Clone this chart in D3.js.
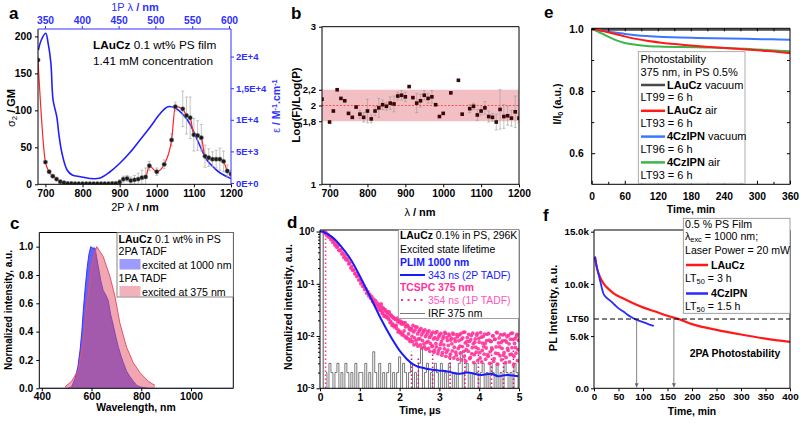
<!DOCTYPE html>
<html>
<head>
<meta charset="utf-8">
<script src="https://cdn.jsdelivr.net/npm/d3@7"></script>
<style>
  body { margin: 0; background: #fff; }
  svg { font-family: "Liberation Sans", Arial, sans-serif; }
</style>
</head>
<body>
<svg id="fig" width="800" height="423"></svg>
<script>
// ---- panel a : 2PA cross section (2P) and 1P absorption ----
var aLam2P = [680,700,710,720,730,740,750,760,770,780,790,800,810,820,830,840,850,860,870,880,890,900,910,920,930,940,950,960,970,980,1000,1020,1040,1050,1070,1080,1090,1100,1110,1120,1130,1140,1150,1160,1170,1180,1190,1200];
var aSigma = [168,30,17,11,7,3.5,2,1,1,0.8,0.8,0.8,0.8,0.8,0.8,0.8,0.8,0.8,0.8,1,1.2,3,7,8,5,6,7,9,10,25,17,27,60,105,102,93,90,67,66,63,38,36,34,34,34,31,18,14];
var aSigmaErr = [0,0,0,0,0,0,0,0,0,0,0,0,0,0,0,0,0,0,0,0,0,3,4,4,5,6,8,10,12,6,5,6,8,6,24,25,28,22,20,18,15,12,10,12,15,14,8,5];
var aLam1P = [341,345,351,354,358,361,366,369,373,380,387,398,411,425,438,452,466,479,493,506,517,527,538,547,557,570,580,588,603];
var aEps = [21040,22620,23680,22300,18990,13130,10490,7590,4750,2060,1270,1000,710,790,1740,3160,4900,6800,8860,10920,12070,11870,10760,9330,6800,3640,2370,1580,710];
var aEpsTicks = [0,5000,10000,15000,20000];
var aEpsLabels = ["0E+0","5E+3","1E+4","1,5E+4","2E+4"];

// ---- panel b : log(F)/log(P) slope ----
var bLam = [680,700,710,720,730,740,750,760,770,780,790,800,810,820,830,840,850,860,870,880,890,900,910,920,930,940,950,960,970,980,990,1000,1020,1040,1050,1070,1080,1090,1100,1110,1120,1130,1140,1150,1160,1170,1180,1190,1200];
var bRatio = [2.08,1.79,1.93,2.20,2.09,2.06,1.90,1.85,1.98,1.89,1.85,1.93,1.83,1.93,1.97,2.01,1.99,2.03,2.02,2.12,2.13,2.11,2.24,2.10,2.03,2.06,2.13,2.09,2.11,2.01,1.86,1.90,2.16,2.32,1.89,1.96,1.99,1.88,1.93,1.97,1.86,1.85,1.79,1.95,1.86,1.87,1.84,1.92,1.84];
var bErr = [0,0,0,0,0,0,0,0,0,0.05,0.06,0.15,0.05,0.06,0.12,0.06,0.05,0.08,0.1,0.05,0.06,0.06,0,0,0.12,0.08,0.06,0.06,0.08,0,0,0,0,0,0,0.05,0.04,0.07,0.05,0.08,0.07,0.05,0.1,0.25,0.15,0.12,0.1,0.2,0.06];
var bTicks = [1,1.8,2,2.2,3];
var bBand = [1.8,2.2];

// ---- panel c : emission spectra ----
var cRedNm = [493,520,547,567,583,601,621,647,674,694,714,741,768,795,828,855];
var cRedI = [0.01,0.05,0.13,0.34,0.62,0.88,1.0,0.93,0.79,0.65,0.46,0.29,0.18,0.11,0.05,0.02];
var cBlueNm = [390,505,520,534,545,554,561,567,575,583,590,597,605,614,620,627,637,647,657,667,677,688,698,708,718,728,741,755,768,782,795,808,830,1170];
var cBlueI = [0,0,0.01,0.07,0.15,0.27,0.40,0.55,0.72,0.86,0.95,1.0,0.99,0.99,0.93,0.86,0.76,0.69,0.66,0.62,0.52,0.44,0.36,0.29,0.23,0.18,0.12,0.08,0.05,0.02,0.01,0.005,0,0];

// ---- panel d : decays ----
var dPlimT = [0,0.1,0.29,0.54,0.8,1.05,1.3,1.55,1.8,2.05,2.3,2.64,2.97,3.2,3.48,3.7,4.06,4.3,4.48,4.7,4.98];
var dPlimI = [1.0,0.97,0.80,0.51,0.27,0.118,0.049,0.020,0.0091,0.0047,0.0030,0.0024,0.0022,0.0021,0.0019,0.0020,0.0018,0.0019,0.0017,0.0018,0.0017];
var dTcspcT0 = 0.1, dTcspcStep = 0.025;   // channel times, set 1
var dTcspcI = [
0.99,0.93,0.95,0.84,0.87,0.78,0.80,0.70,
0.72,0.62,0.66,0.55,0.58,0.50,0.53,0.44,
0.43,0.45,0.37,0.39,0.32,0.35,0.29,0.31,
0.28,0.24,0.25,0.20,0.215,0.18,0.185,0.155,
0.16,0.138,0.142,0.118,0.121,0.101,0.107,0.089,
0.092,0.078,0.081,0.066,0.071,0.059,0.063,0.053,
0.057,0.046,0.051,0.042,0.047,0.038,0.042,0.034,
0.039,0.031,0.036,0.028,0.033,0.025,0.030,0.024,
0.028,0.021,0.026,0.019,0.024,0.017,0.022,0.016,
0.021,0.014,0.019,0.013,0.018,0.012,0.017,0.011,
0.017,0.010,0.015,0.0095,0.016,0.011,0.0135,0.0085,
0.014,0.0078,0.012,0.0092,0.015,0.0071,0.011,0.0088,
0.013,0.0068,0.0105,0.0082,0.0125,0.0062,0.0098,0.0075,
0.012,0.0058,0.0094,0.0072,0.011,0.0065,0.0088,0.0054,
0.0115,0.0062,0.0087,0.0052,0.0105,0.0069,0.0078,0.0048,
0.0098,0.0057,0.0112,0.0049,0.0082,0.0066,0.0102,0.0045,
0.0091,0.0052,0.0108,0.0061,0.0079,0.0043,0.0096,0.0058,
0.0105,0.0047,0.0086,0.0063,0.0118,0.0041,0.0074,0.0055,
0.0093,0.0051,0.0079,0.0039,0.0102,0.0060,0.0071,0.0044,
0.0088,0.0049,0.0112,0.0057,0.0076,0.0038,0.0095,0.0053,
0.0098,0.0045,0.0072,0.0059,0.0108,0.0041,0.0083,0.0050,
0.0079,0.0056,0.0101,0.0037,0.0087,0.0062,0.0115,0.0046,
0.0092,0.0042,0.0075,0.0058,0.0105,0.0048,0.0082,0.0039,
0.0097,0.0053,0.0071,0.0044,0.0112,0.0060,0.0086,0.0041,
0.0089,0.0047,0.0108,0.0055];
var dTcspcT0b = 1.5125;                   // channel times, set 2 (same step)
var dTcspcIb = [
0.031,0.041,0.027,0.034,0.024,0.032,0.023,0.029,
0.022,0.029,0.018,0.025,0.016,0.023,0.015,0.021,
0.016,0.022,0.012,0.020,0.0115,0.019,0.0105,0.018,
0.0125,0.018,0.0092,0.016,0.0088,0.0145,0.0079,0.013,
0.0098,0.016,0.0068,0.013,0.0082,0.0148,0.0064,0.0122,
0.0088,0.0138,0.0059,0.0115,0.0071,0.0131,0.0056,0.0108,
0.0079,0.0125,0.0051,0.0101,0.0063,0.0119,0.0049,0.0093,
0.0072,0.0121,0.0046,0.0097,0.0058,0.0112,0.0043,0.0089,
0.0068,0.0117,0.0041,0.0093,0.0054,0.0109,0.0039,0.0084,
0.0071,0.0114,0.0038,0.0088,0.0049,0.0106,0.0036,0.0081,
0.0064,0.0111,0.0035,0.0092,0.0051,0.0119,0.0033,0.0078,
0.0066,0.0108,0.0037,0.0085,0.0046,0.0113,0.0031,0.0076,
0.0061,0.0104,0.0034,0.0089,0.0048,0.0116,0.0032,0.0073,
0.0063,0.0109,0.0036,0.0082,0.0044,0.0112,0.0030,0.0079,
0.0059,0.0101,0.0033,0.0086,0.0047,0.0118,0.0029,0.0074,
0.0062,0.0106,0.0035,0.0081,0.0043,0.0109,0.0031,0.0077,
0.0058,0.0103,0.0032,0.0087,0.0045,0.0114,0.0028,0.0072,
0.0060,0.0099,0.0034,0.0083];
var dDropT = [2.3,2.47,2.83,3.27,3.64,3.98,4.31,4.61,4.86];
var dDropI = [0.005,0.004,0.006,0.0045,0.006,0.005,0.0055,0.004,0.006];
var dRiseT = 0.14;
var dIrfPeakT = 0.08;
var dIrfT0 = 0.15, dIrfStep = 0.05;   // channel times
var dIrfCounts = [2,1,3,2,1,2,3,1,2,1, 3,2,1,2,1,3,1,2,2,1, 3,1,2,1,5,2,1,3,1,2, 1,2,3,1,2,1,2,4,1,3,
  2,1,2,3,1,2,1,3,6,1, 2,3,1,2,1,3,2,1,3,1, 2,1,3,2,1,2,1,3,5,1, 2,3,1,2,1,3,2,1,2,3,
  1,2,1,3,2,1,3,1,2,1, 3,2,1,2,1,3,2,1];  // x 1e-3

// ---- panel e : 1PA photostability ----
var eTime = [0,10,20,30,45,60,80,100,130,160,190,220,250,280,310,340,360];
var eLAuCzVac = [1.0,0.998,0.997,0.997,0.997,0.997,0.997,0.997,0.997,0.997,0.997,0.997,0.997,0.997,0.997,0.997,0.997];
var eLAuCzAir = [1.0,0.997,0.993,0.989,0.983,0.976,0.968,0.962,0.955,0.950,0.945,0.941,0.938,0.934,0.930,0.926,0.922];
var e4CzVac = [1.0,0.997,0.994,0.991,0.988,0.984,0.980,0.977,0.974,0.972,0.971,0.970,0.969,0.968,0.967,0.966,0.965];
var e4CzAir = [1.0,0.992,0.984,0.975,0.963,0.955,0.949,0.945,0.943,0.942,0.941,0.940,0.938,0.936,0.933,0.930,0.928];

// ---- panel f : 2PA photostability ----
var fTimeRed = [2,5,10,15,20,30,40,60,80,100,125,150,175,200,250,300,350,400];
var fRed = [12600,11700,10900,10400,10000,9500,9100,8600,8150,7750,7350,6950,6600,6150,5600,5150,4750,4450];
var fTimeBlue = [2,5,9,14,19,25,33,42,50,60,67,75,87,97,107,115,122];
var fBlue = [12600,11800,11000,10000,9100,8700,8400,8000,7650,7350,7100,6850,6550,6380,6220,6080,5970];
var fLT50 = 6640;
var fLT50Times = [87,163];

var TICK = 10.3;
var svg = d3.select("#fig");
var defs = svg.append("defs");

function makeClip(id, x0, y0, x1, y1) {
  defs.append("clipPath").attr("id", id).append("rect")
    .attr("x", x0).attr("y", y0).attr("width", x1 - x0).attr("height", y1 - y0);
  return "url(#" + id + ")";
}

function rich(t, parts) {
  parts.forEach(function(p) {
    if (typeof p === "string") p = {t: p};
    var ts = t.append("tspan").text(p.t);
    if (p.b) ts.attr("font-weight", "bold");
    if (p.c) ts.attr("fill", p.c);
    if (p.sup) ts.attr("baseline-shift", "3.5").style("font-size", "70%");
    if (p.sub) ts.attr("baseline-shift", "-2.3").style("font-size", "70%");
  });
  return t;
}

function txt(x, y, parts, o) {
  o = o || {};
  var t = svg.append("text").attr("x", x).attr("y", y)
    .attr("font-size", o.size || 10)
    .attr("fill", o.fill || "#000")
    .attr("text-anchor", o.anchor || "start");
  if (o.bold) t.attr("font-weight", "bold");
  return rich(t, parts);
}

function vtxt(x, y, parts, o) {
  o = o || {};
  var t = svg.append("text")
    .attr("transform", "translate(" + x + "," + y + ") rotate(-90)")
    .attr("font-size", o.size || 10)
    .attr("fill", o.fill || "#000")
    .attr("text-anchor", "middle");
  if (o.bold) t.attr("font-weight", "bold");
  return rich(t, parts);
}

function axis(gen, tx, ty, color, size) {
  var g = svg.append("g").attr("transform", "translate(" + tx + "," + ty + ")").call(gen);
  g.attr("font-family", null).attr("font-size", null);
  g.select(".domain").remove();
  g.selectAll(".tick line").attr("stroke", color || "#000");
  g.selectAll(".tick text").attr("fill", color || "#000")
    .attr("font-size", size || TICK).attr("font-weight", "bold");
  return g;
}

function frame(x0, y0, x1, y1, cTop, cRight) {
  var g = svg.append("g").attr("fill", "none").attr("stroke-width", 1);
  g.append("line").attr("x1", x0).attr("x2", x1).attr("y1", y1).attr("y2", y1).attr("stroke", "#000");
  g.append("line").attr("x1", x0).attr("x2", x0).attr("y1", y0).attr("y2", y1).attr("stroke", "#000");
  g.append("line").attr("x1", x0).attr("x2", x1).attr("y1", y0).attr("y2", y0).attr("stroke", cTop || "#000");
  g.append("line").attr("x1", x1).attr("x2", x1).attr("y1", y0).attr("y2", y1).attr("stroke", cRight || "#000");
}

function zip(xs, ys) { return xs.map(function(x, i) { return [x, ys[i]]; }); }
var fmtInt = d3.format("d");

// panel letters
[["a", 9, 19], ["b", 291, 19], ["e", 544, 18], ["c", 10, 229], ["d", 287, 228], ["f", 543, 221]].forEach(function(l) {
  txt(l[1], l[2], [l[0]], {size: 17, bold: true});
});

// ================= panel a =================
var ax = d3.scaleLinear().domain([680, 1200]).range([38, 231]);
var ay = d3.scaleLinear().domain([0, 210]).range([184.3, 29]);
var ax1 = d3.scaleLinear().domain([340.5, 602.7]).range([38, 231]);
var ayE = d3.scaleLinear().domain([-206, 24363]).range([184.3, 29]);
var clipA = makeClip("clipA", 38, 29, 231, 184.3);

var gA = svg.append("g").attr("clip-path", clipA);
gA.append("path").datum(zip(aLam1P, aEps))
  .attr("fill", "none").attr("stroke", "#2020ff").attr("stroke-width", 1.6)
  .attr("d", d3.line().curve(d3.curveCatmullRom).x(function(d) { return ax1(d[0]); }).y(function(d) { return ayE(d[1]); }));
aLam2P.forEach(function(l, i) {
  var e = aSigmaErr[i];
  if (!e) return;
  var x = ax(l);
  gA.append("line").attr("x1", x).attr("x2", x).attr("y1", ay(aSigma[i] - e)).attr("y2", ay(aSigma[i] + e))
    .attr("stroke", "#aaa").attr("stroke-width", 0.7);
  [aSigma[i] - e, aSigma[i] + e].forEach(function(v) {
    gA.append("line").attr("x1", x - 1.5).attr("x2", x + 1.5).attr("y1", ay(v)).attr("y2", ay(v))
      .attr("stroke", "#aaa").attr("stroke-width", 0.7);
  });
});
gA.append("path").datum(zip(aLam2P, aSigma))
  .attr("fill", "none").attr("stroke", "#ff2222").attr("stroke-width", 1.2)
  .attr("d", d3.line().curve(d3.curveMonotoneX).x(function(d) { return ax(d[0]); }).y(function(d) { return ay(d[1]); }));
gA.selectAll("circle").data(zip(aLam2P, aSigma)).enter().append("circle")
  .attr("cx", function(d) { return ax(d[0]); }).attr("cy", function(d) { return ay(d[1]); })
  .attr("r", 2.2).attr("fill", "#1a1a1a").attr("stroke", "#888").attr("stroke-width", 0.5);

frame(38, 29, 231, 184.3, "#3030ff", "#3030ff");
axis(d3.axisBottom(ax).tickValues([700,800,900,1000,1100,1200]).tickFormat(fmtInt).tickSize(3).tickPadding(2), 0, 184.3);
axis(d3.axisLeft(ay).tickValues([0,50,100,150,200]).tickSize(3).tickPadding(3), 38, 0);
axis(d3.axisTop(ax1).tickValues([350,400,450,500,550,600]).tickSize(3).tickPadding(2), 0, 29, "#3030ff");
axis(d3.axisRight(ayE).tickValues(aEpsTicks).tickSize(3).tickPadding(2)
  .tickFormat(function(d, i) { return aEpsLabels[i]; }), 231, 0, "#3030ff", 9.5);

txt(135, 11, ["1P λ ", {t: "/ nm", b: true}], {size: 11, fill: "#3030ff", anchor: "middle"});
txt(135, 211, ["2P λ ", {t: "/ nm", b: true}], {size: 11, anchor: "middle"});
vtxt(15, 108, ["σ", {t: "2", sub: true}, {t: " / GM", b: true}], {size: 11});
vtxt(280, 106, ["ε", {t: " / M", b: true}, {t: "-1", sup: true, b: true}, {t: ".cm", b: true}, {t: "-1", sup: true, b: true}], {size: 10.5, fill: "#3030ff"});
txt(93, 49, [{t: "LAuCz", b: true}, " 0.1 wt% PS film"], {size: 11.8});
txt(93, 65, ["1.41 mM concentration"], {size: 11.8});

// ================= panel b =================
var bx = d3.scaleLinear().domain([680, 1200]).range([322, 519]);
var by = d3.scaleLinear().domain([1, 3]).range([184.3, 26.7]);
var clipB = makeClip("clipB", 322, 26.7, 519, 184.3);
var gB = svg.append("g").attr("clip-path", clipB);
gB.append("rect").attr("x", 322).attr("width", 197)
  .attr("y", by(bBand[1])).attr("height", by(bBand[0]) - by(bBand[1]))
  .attr("fill", "rgba(222,90,100,0.38)");
gB.append("line").attr("x1", 322).attr("x2", 519).attr("y1", by(2)).attr("y2", by(2))
  .attr("stroke", "#ff4b4b").attr("stroke-width", 1.2).attr("stroke-dasharray", "2,1.6");
bLam.forEach(function(l, i) {
  var e = bErr[i];
  if (!e) return;
  var x = bx(l);
  gB.append("line").attr("x1", x).attr("x2", x).attr("y1", by(bRatio[i] - e)).attr("y2", by(bRatio[i] + e))
    .attr("stroke", "#999").attr("stroke-width", 0.6);
  [bRatio[i] - e, bRatio[i] + e].forEach(function(v) {
    gB.append("line").attr("x1", x - 1.5).attr("x2", x + 1.5).attr("y1", by(v)).attr("y2", by(v))
      .attr("stroke", "#999").attr("stroke-width", 0.6);
  });
});
gB.selectAll("rect.pt").data(zip(bLam, bRatio)).enter().append("rect").attr("class", "pt")
  .attr("x", function(d) { return bx(d[0]) - 1.8; }).attr("y", function(d) { return by(d[1]) - 1.8; })
  .attr("width", 3.6).attr("height", 3.6).attr("fill", "#3a0606");
frame(322, 26.7, 519, 184.3);
axis(d3.axisBottom(bx).tickValues([700,800,900,1000,1100,1200]).tickFormat(fmtInt).tickSize(3).tickPadding(2), 0, 184.3);
axis(d3.axisLeft(by).tickValues(bTicks).tickSize(3).tickPadding(3)
  .tickFormat(function(d) { return String(d).replace(".", ","); }), 322, 0, "#000", 9.5);
vtxt(300, 105, ["Log(F)/Log(P)"], {size: 11.5, bold: true});
txt(420, 216, ["λ ", {t: "/ nm", b: true}], {size: 11, anchor: "middle"});

// ================= panel c =================
var cx = d3.scaleLinear().domain([390, 1170]).range([39.3, 233.3]);
var cy = d3.scaleLinear().domain([0, 1.1]).range([388.3, 232.5]);
var clipC = makeClip("clipC", 39.3, 232.5, 233.3, 388.3);
var gC = svg.append("g").attr("clip-path", clipC);
var cArea = d3.area().x(function(d) { return cx(d[0]); }).y0(cy(0)).y1(function(d) { return cy(d[1]); });
var cLine = d3.line().x(function(d) { return cx(d[0]); }).y(function(d) { return cy(d[1]); });
gC.append("path").datum(zip(cBlueNm, cBlueI)).attr("d", cArea).attr("fill", "rgba(40,40,240,0.72)");
gC.append("path").datum(zip(cBlueNm, cBlueI)).attr("d", cLine).attr("fill", "none")
  .attr("stroke", "#3333ff").attr("stroke-width", 1);
gC.append("path").datum(zip(cRedNm, cRedI)).attr("d", cArea).attr("fill", "rgba(228,80,100,0.5)");
gC.append("path").datum(zip(cRedNm, cRedI)).attr("d", cLine).attr("fill", "none")
  .attr("stroke", "#e8506a").attr("stroke-width", 1);
frame(39.3, 232.5, 233.3, 388.3);
axis(d3.axisBottom(cx).tickValues([400,600,800,1000]).tickFormat(fmtInt).tickSize(3).tickPadding(1), 0, 388.3);
axis(d3.axisLeft(cy).tickValues([0,0.2,0.4,0.6,0.8,1.0]).tickFormat(d3.format(".1f")).tickSize(3).tickPadding(3), 39.3, 0);
svg.append("rect").attr("x", 117).attr("y", 232.5).attr("width", 116.3).attr("height", 64.5)
  .attr("fill", "#fff").attr("stroke", "#666").attr("stroke-width", 0.8);
txt(118.5, 242.5, [{t: "LAuCz", b: true}, " 0.1 wt% in PS"], {size: 10.6});
txt(118.5, 255, ["2PA TADF"], {size: 10.6});
svg.append("rect").attr("x", 119.5).attr("y", 259).attr("width", 21).attr("height", 10.5).attr("fill", "rgba(90,90,250,0.6)");
txt(142, 268.5, ["excited at 1000 nm"], {size: 10.6});
txt(118.5, 282, ["1PA TADF"], {size: 10.6});
svg.append("rect").attr("x", 119.5).attr("y", 286).attr("width", 21).attr("height", 10.5).attr("fill", "rgba(232,100,120,0.5)");
txt(142, 295.5, ["excited at 375 nm"], {size: 10.6});
vtxt(12, 310, ["Normalized intensity, a.u."], {size: 10, bold: true});
txt(136, 411, ["Wavelength, nm"], {size: 10.4, bold: true, anchor: "middle"});

// ================= panel d =================
var dx = d3.scaleLinear().domain([0, 5]).range([320, 519]);
var dy = d3.scaleLog().domain([1e-3, 1.07]).range([388.3, 230]);
var clipD = makeClip("clipD", 320, 230, 519, 388.3);
var gD = svg.append("g").attr("clip-path", clipD);
var irf = dIrfCounts.map(function(c, i) { return [dIrfT0 + i * dIrfStep, c * 1e-3]; });
gD.append("path").datum(irf).attr("fill", "none").attr("stroke", "#222").attr("stroke-width", 0.7).attr("stroke-opacity", 0.85)
  .attr("d", d3.line().curve(d3.curveStep).x(function(d) { return dx(d[0]); }).y(function(d) { return d[1] <= 1e-3 ? 392 : dy(d[1]); }));
gD.append("line").attr("x1", dx(dIrfPeakT)).attr("x2", dx(dIrfPeakT)).attr("y1", 392).attr("y2", dy(0.95))
  .attr("stroke", "#555").attr("stroke-width", 1);
gD.append("line").attr("x1", dx(dRiseT)).attr("x2", dx(dRiseT)).attr("y1", 392).attr("y2", dy(1))
  .attr("stroke", "#ff3399").attr("stroke-width", 1.6).attr("stroke-dasharray", "1.5,2.5");
dDropT.forEach(function(t, i) {
  gD.append("line").attr("x1", dx(t)).attr("x2", dx(t)).attr("y1", 392).attr("y2", dy(dDropI[i]))
    .attr("stroke", "#d81b80").attr("stroke-width", 1.6).attr("stroke-dasharray", "1.5,2.5");
});
var tcspc = dTcspcI.map(function(v, i) { return [dTcspcT0 + i * dTcspcStep, v]; })
  .concat(dTcspcIb.map(function(v, i) { return [dTcspcT0b + i * dTcspcStep, v]; }));
gD.selectAll("circle").data(tcspc).enter().append("circle")
  .attr("cx", function(d) { return dx(d[0]); })
  .attr("cy", function(d) { return dy(d[1]); })
  .attr("r", 1.9).attr("fill", "#ff3399").attr("fill-opacity", 0.9);
gD.append("path").datum(zip(dPlimT, dPlimI)).attr("fill", "none").attr("stroke", "#1a1aff").attr("stroke-width", 2)
  .attr("d", d3.line().curve(d3.curveMonotoneX).x(function(d) { return dx(d[0]); }).y(function(d) { return dy(d[1]); }));
frame(320, 230, 519, 388.3);
axis(d3.axisBottom(dx).tickValues([0,1,2,3,4,5]).tickFormat(fmtInt).tickSize(3).tickPadding(2), 0, 388.3);
var dMinor = [];
[1e-3, 1e-2, 1e-1].forEach(function(p) { for (var k = 2; k <= 9; k++) dMinor.push(p * k); });
axis(d3.axisLeft(dy).tickValues(dMinor).tickSize(2).tickFormat(""), 320, 0);
var dLeft = axis(d3.axisLeft(dy).tickValues([1e-3, 1e-2, 1e-1, 1]).tickSize(3.5).tickPadding(2).tickFormat(""), 320, 0);
dLeft.selectAll(".tick text").each(function(d) {
  var t = d3.select(this);
  t.append("tspan").text("10");
  t.append("tspan").attr("baseline-shift", "3.5").style("font-size", "70%").text(Math.round(Math.log10(d)));
});
svg.append("rect").attr("x", 398.3).attr("y", 229.5).attr("width", 120.7).attr("height", 89)
  .attr("fill", "#fff").attr("stroke", "#888").attr("stroke-width", 0.8);
txt(400, 238.5, [{t: "LAuCz", b: true}, " 0.1% in PS, 296K"], {size: 10.4});
txt(400, 253, ["Excited state lifetime"], {size: 10.4});
txt(400, 265.5, ["PLIM 1000 nm"], {size: 10.4, bold: true, fill: "#1a1aff"});
svg.append("line").attr("x1", 400).attr("x2", 425).attr("y1", 275).attr("y2", 275).attr("stroke", "#1a1aff").attr("stroke-width", 2);
txt(428, 278.5, ["343 ns (2P TADF)"], {size: 10.4, fill: "#1a1aff"});
txt(400, 291, ["TCSPC 375 nm"], {size: 10.4, bold: true, fill: "#ff3399"});
svg.append("line").attr("x1", 401).attr("x2", 425).attr("y1", 300).attr("y2", 300).attr("stroke", "#ff3399")
  .attr("stroke-width", 2.2).attr("stroke-dasharray", "2,4.5");
txt(428, 303.5, ["354 ns (1P TADF)"], {size: 10.4, fill: "#ff55bb"});
svg.append("line").attr("x1", 400).attr("x2", 425).attr("y1", 313.5).attr("y2", 313.5).attr("stroke", "#777").attr("stroke-width", 1);
txt(428, 317, ["IRF 375  nm"], {size: 10.4});
vtxt(292, 307, ["Normalized intensity, a.u."], {size: 10.5, bold: true});
txt(420, 414, ["Time, µs"], {size: 10.4, bold: true, anchor: "middle"});

// ================= panel e =================
var ex = d3.scaleLinear().domain([0, 360]).range([591.7, 790]);
var ey = d3.scaleLinear().domain([0.5, 1.002]).range([184.3, 28.3]);
var clipE = makeClip("clipE", 591.7, 28.3, 790, 184.3);
var gE = svg.append("g").attr("clip-path", clipE);
var eLine = d3.line().curve(d3.curveMonotoneX).x(function(d) { return ex(d[0]); }).y(function(d) { return ey(d[1]); });
[[eLAuCzVac, "#4a4a4a"], [e4CzVac, "#3a78ff"], [e4CzAir, "#3cb54a"], [eLAuCzAir, "#ff1a1a"]].forEach(function(s) {
  gE.append("path").datum(zip(eTime, s[0])).attr("d", eLine).attr("fill", "none")
    .attr("stroke", s[1]).attr("stroke-width", 2);
});
frame(591.7, 28.3, 790, 184.3);
axis(d3.axisBottom(ex).tickValues([30,90,150,210,270,330]).tickSize(-2.5).tickFormat(""), 0, 184.3);
axis(d3.axisBottom(ex).tickValues([0,60,120,180,240,300,360]).tickSize(-3.5).tickPadding(8), 0, 184.3);
axis(d3.axisTop(ex).tickValues([30,60,90,120,150,180,210,240,270,300,330]).tickSize(-3).tickFormat(""), 0, 28.3);
axis(d3.axisLeft(ey).tickValues([0.7,0.9]).tickSize(-2.5).tickFormat(""), 591.7, 0);
axis(d3.axisLeft(ey).tickValues([0.6,0.8,1.0]).tickSize(-3.5).tickPadding(8).tickFormat(d3.format(".1f")), 591.7, 0);
axis(d3.axisRight(ey).tickValues([0.6,0.7,0.8,0.9]).tickSize(-3).tickFormat(""), 790, 0);
svg.append("rect").attr("x", 638.3).attr("y", 51.7).attr("width", 106.7).attr("height", 131.6)
  .attr("fill", "#fff").attr("stroke", "#999").attr("stroke-width", 0.8);
var eLeg = [["LAuCz", " vacuum", "LT99 = 6 h", "#4a4a4a"], ["LAuCz", " air", "LT93 = 6 h", "#ff1a1a"],
            ["4CzIPN", " vacuum", "LT96 = 6 h", "#3a78ff"], ["4CzIPN", " air", "LT93 = 6 h", "#3cb54a"]];
txt(640.5, 63, ["Photostability"], {size: 11});
txt(640.5, 75.5, ["375 nm, in PS 0.5%"], {size: 11});
eLeg.forEach(function(l, i) {
  var yb = 88.5 + i * 25.8;
  svg.append("line").attr("x1", 641).attr("x2", 665).attr("y1", yb - 3.5).attr("y2", yb - 3.5)
    .attr("stroke", l[3]).attr("stroke-width", 2.5);
  txt(667, yb, [{t: l[0], b: true}, l[1]], {size: 11});
  txt(640.5, yb + 12.9, [l[2]], {size: 11});
});
vtxt(561, 104, ["I/I", {t: "0", sub: true}, " (a.u.)"], {size: 10.5, bold: true});
txt(691, 213, ["Time, min"], {size: 10.4, bold: true, anchor: "middle"});

// ================= panel f =================
var fx = d3.scaleLinear().domain([0, 400]).range([594, 790]);
var fy = d3.scaleLinear().domain([0, 15160]).range([388.3, 230]);
var clipF = makeClip("clipF", 594, 230, 790, 388.3);
var gF = svg.append("g").attr("clip-path", clipF);
defs.append("marker").attr("id", "arr").attr("viewBox", "0 0 6 6").attr("refX", 6).attr("refY", 3)
  .attr("markerWidth", 5).attr("markerHeight", 5).attr("orient", "auto")
  .append("path").attr("d", "M0,0L6,3L0,6Z").attr("fill", "#666");
fLT50Times.forEach(function(t) {
  svg.append("line").attr("x1", fx(t)).attr("x2", fx(t)).attr("y1", fy(fLT50)).attr("y2", fy(0) - 1)
    .attr("stroke", "#666").attr("stroke-width", 0.8).attr("marker-end", "url(#arr)");
});
var fLine = d3.line().curve(d3.curveMonotoneX).x(function(d) { return fx(d[0]); }).y(function(d) { return fy(d[1]); });
gF.append("path").datum(zip(fTimeRed, fRed)).attr("d", fLine).attr("fill", "none").attr("stroke", "#ff1a1a").attr("stroke-width", 2.2);
gF.append("path").datum(zip(fTimeBlue, fBlue)).attr("d", fLine).attr("fill", "none").attr("stroke", "#2a2aff").attr("stroke-width", 1.8);
svg.append("line").attr("x1", 594).attr("x2", 790).attr("y1", fy(fLT50)).attr("y2", fy(fLT50))
  .attr("stroke", "#000").attr("stroke-width", 1.1).attr("stroke-dasharray", "5,3");
frame(594, 230, 790, 388.3);
axis(d3.axisBottom(fx).tickValues([0,50,100,150,200,250,300,350,400]).tickSize(3).tickPadding(2), 0, 388.3, "#000", 9.8);
axis(d3.axisLeft(fy).tickValues([0,5000,10000,15000]).tickSize(3).tickPadding(2)
  .tickFormat(function(d) { return d === 0 ? "0.0" : (d / 1000).toFixed(1) + "k"; }), 594, 0, "#000", 9.8);
txt(589, fy(fLT50) + 3.5, ["LT50"], {size: 9.8, bold: true, anchor: "end"});
svg.append("rect").attr("x", 683.3).attr("y", 218.3).attr("width", 106.7).attr("height", 95)
  .attr("fill", "#fff").attr("stroke", "#888").attr("stroke-width", 0.8);
txt(685, 227.5, ["0.5 % PS Film"], {size: 10.6});
txt(685, 240, ["λ", {t: "exc", sub: true}, " = 1000 nm;"], {size: 10.6});
txt(685, 253.5, ["Laser Power = 20 mW"], {size: 10.6});
svg.append("line").attr("x1", 686).attr("x2", 708).attr("y1", 265).attr("y2", 265).attr("stroke", "#ff1a1a").attr("stroke-width", 2.5);
txt(711, 268.5, ["LAuCz"], {size: 10.6, bold: true});
txt(685, 282, ["LT", {t: "50", sub: true}, " = 3 h"], {size: 10.6});
svg.append("line").attr("x1", 686).attr("x2", 708).attr("y1", 293.5).attr("y2", 293.5).attr("stroke", "#2a2aff").attr("stroke-width", 2.5);
txt(711, 297, ["4CzIPN"], {size: 10.6, bold: true});
txt(685, 309.5, ["LT", {t: "50", sub: true}, " = 1.5 h"], {size: 10.6});
txt(735, 357, ["2PA Photostability"], {size: 10.4, bold: true, anchor: "middle"});
vtxt(557, 308, ["PL Intensity, a.u."], {size: 11, bold: true});
txt(692, 415, ["Time, min"], {size: 10.4, bold: true, anchor: "middle"});
</script>
</body>
</html>
